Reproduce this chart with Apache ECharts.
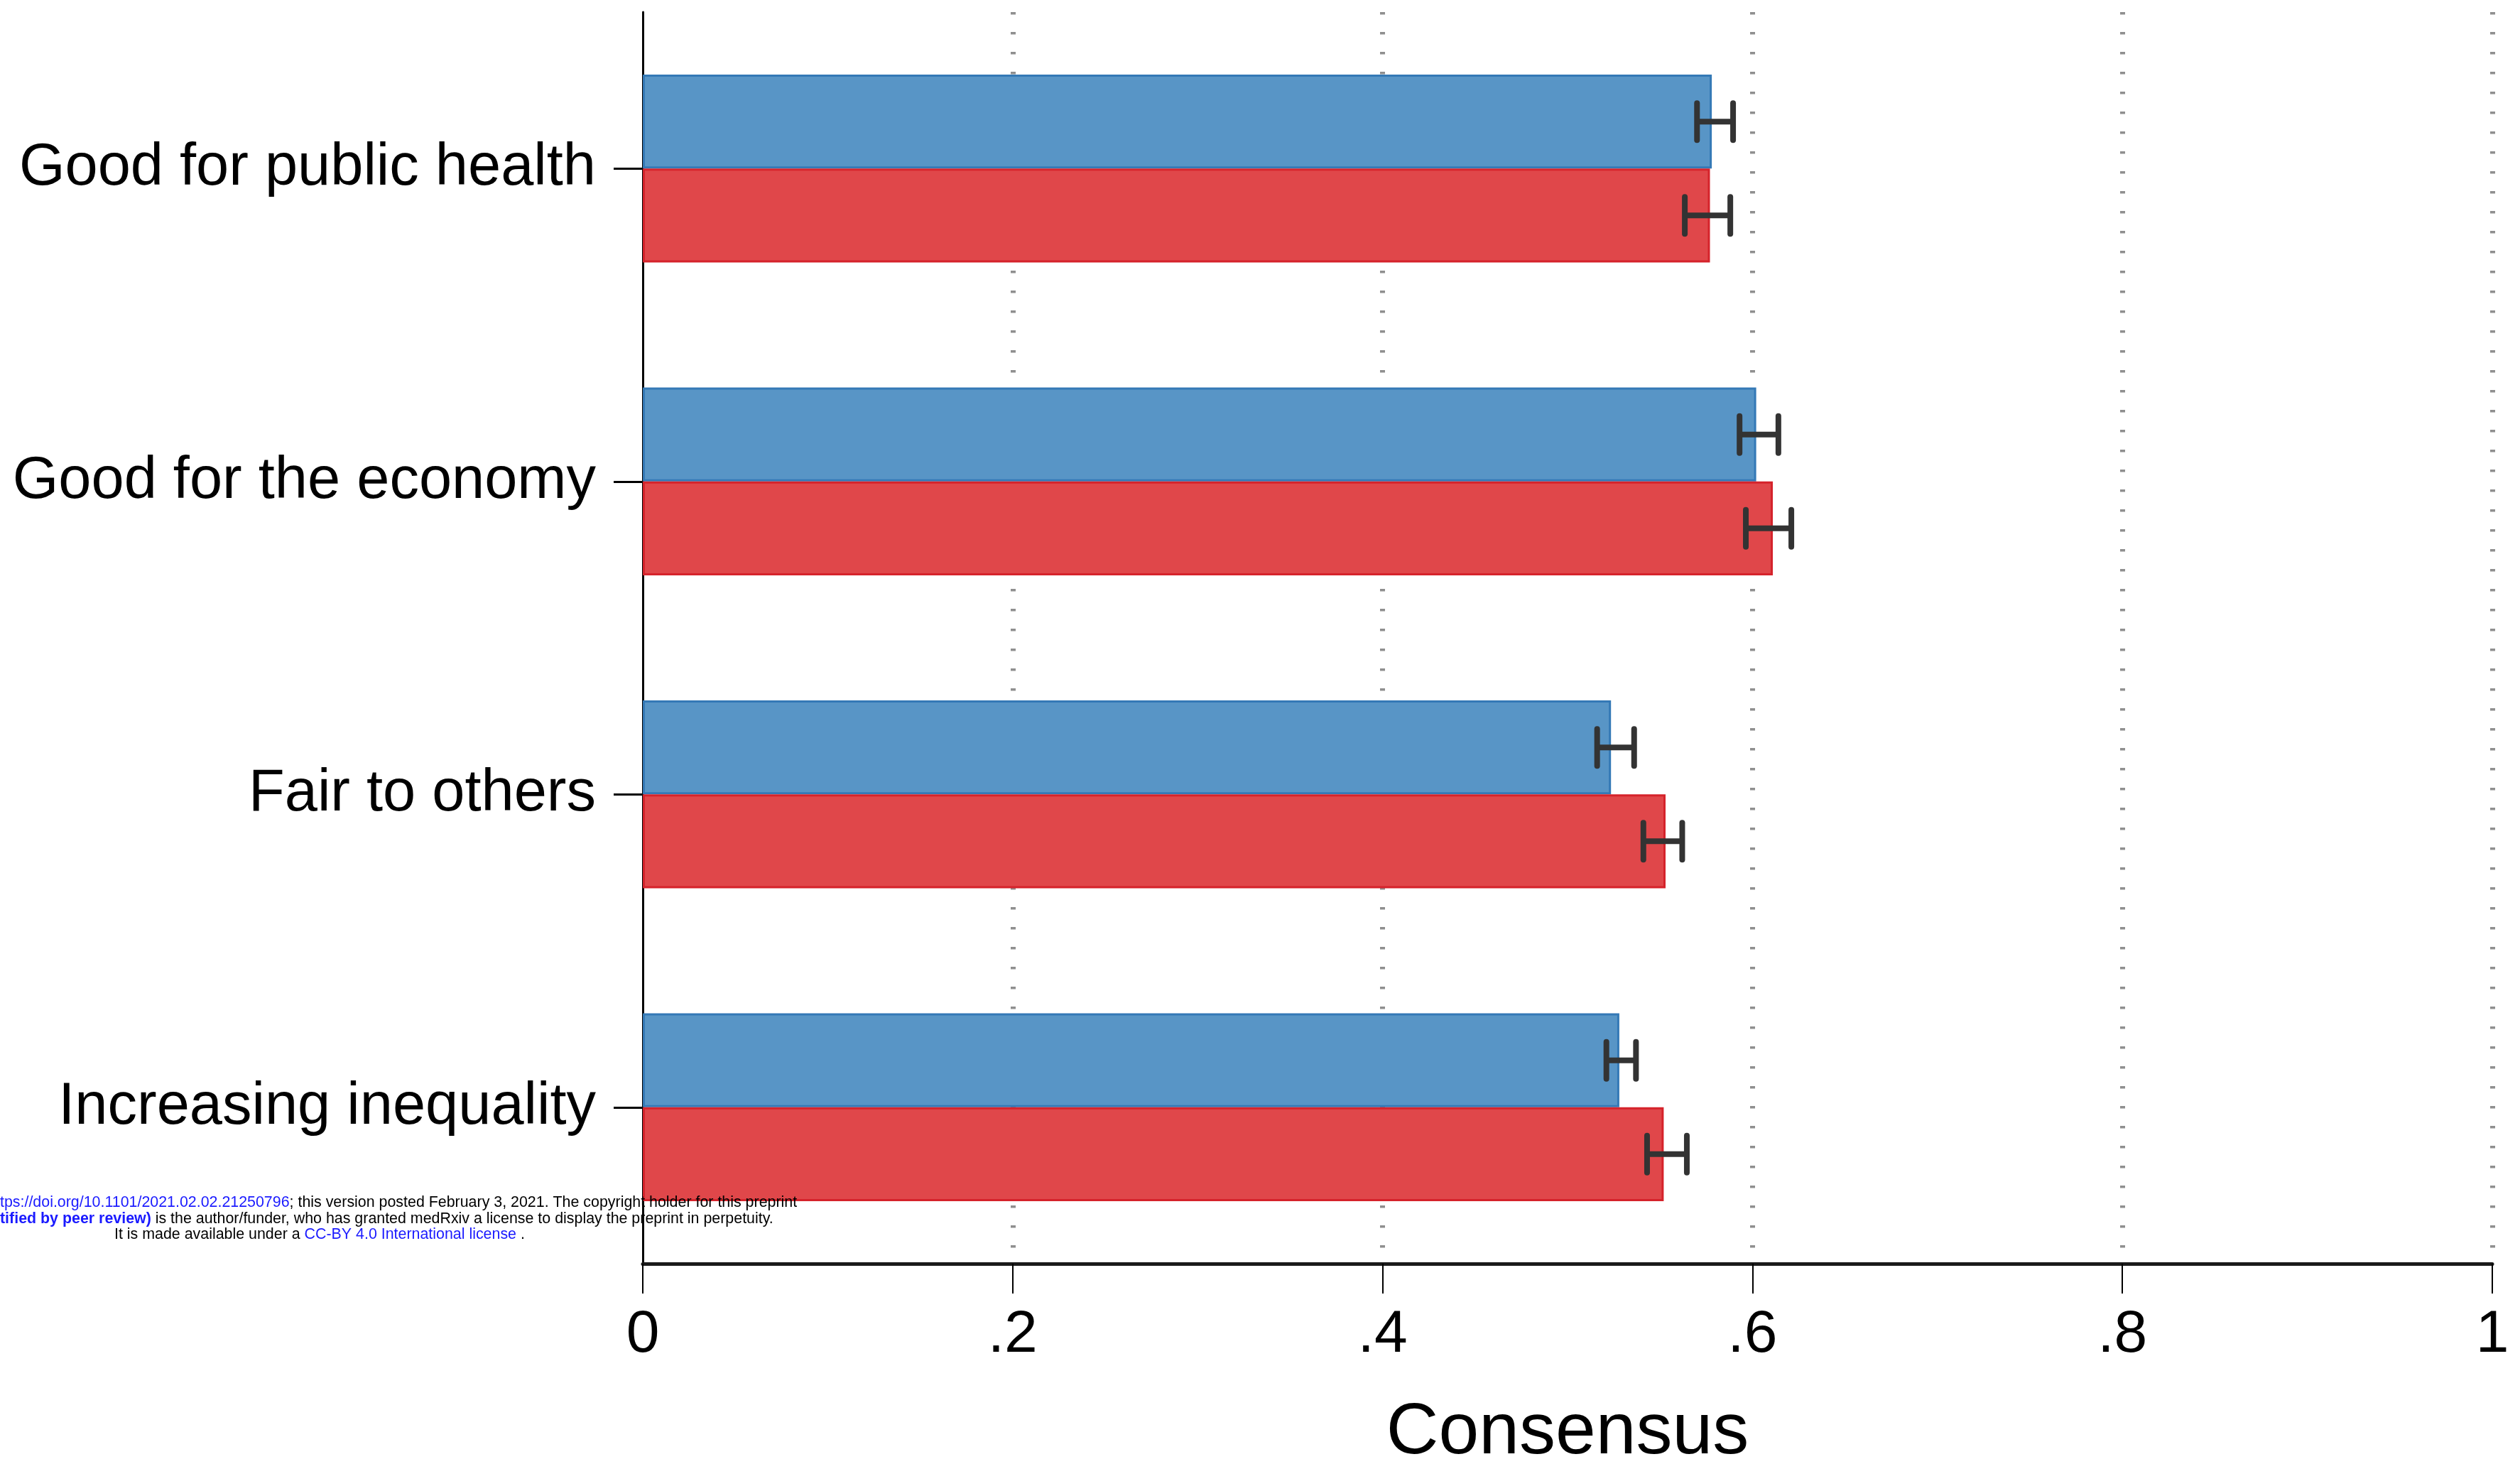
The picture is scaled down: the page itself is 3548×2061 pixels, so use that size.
<!DOCTYPE html>
<html>
<head>
<meta charset="utf-8">
<style>
html,body{margin:0;padding:0;background:#fff;}
#chart{width:3548px;height:2061px;}
</style>
<script src="https://cdn.jsdelivr.net/npm/echarts@6/dist/echarts.min.js"></script>
</head>
<body>
<div id="chart"></div>
<script>
const categories = ['Good for public health', 'Good for the economy', 'Fair to others', 'Increasing inequality'];
const blueValues = [0.578, 0.602, 0.5235, 0.528];
const redValues  = [0.577, 0.611, 0.553, 0.552];
const blueLow  = [0.570, 0.593, 0.516, 0.521];
const blueHigh = [0.5895, 0.614, 0.536, 0.537];
const redLow   = [0.5634, 0.5964, 0.541, 0.543];
const redHigh  = [0.588, 0.621, 0.562, 0.5645];
const xTickLabels = ['0', '.2', '.4', '.6', '.8', '1'];
const xAxisTitle = 'Consensus';

const chart = echarts.init(document.getElementById('chart'), null, {renderer: 'canvas'});
const FONT = 'Liberation Sans, Arial, Helvetica, sans-serif';
const NARROW = 'Liberation Sans Narrow, Arial Narrow, sans-serif';
const GAP = 0.4;

function errorSeries(low, high, sideSign) {
  return {
    type: 'custom',
    z: 5,
    data: categories.map((c, i) => [i, low[i], high[i]]),
    encode: {y: 0, x: [1, 2]},
    renderItem: function (params, api) {
      const idx = api.value(0);
      const lo = api.coord([api.value(1), idx]);
      const hi = api.coord([api.value(2), idx]);
      const band = api.size([0, 1])[1];
      const barW = band * (1 - GAP) / 2;
      const y = lo[1] + sideSign * barW / 2;
      const capH = 26;
      const st = {stroke: '#333333', lineWidth: 8, lineCap: 'round'};
      return {
        type: 'group',
        children: [
          {type: 'line', shape: {x1: lo[0], y1: y, x2: hi[0], y2: y}, style: Object.assign({}, st, {lineCap: 'butt'})},
          {type: 'line', shape: {x1: lo[0], y1: y - capH, x2: lo[0], y2: y + capH}, style: st},
          {type: 'line', shape: {x1: hi[0], y1: y - capH, x2: hi[0], y2: y + capH}, style: st}
        ]
      };
    }
  };
}

const option = {
  backgroundColor: '#ffffff',
  animation: false,
  grid: {left: 905, right: 39, top: 17, bottom: 282, containLabel: false, outerBoundsMode: 'none'},
  xAxis: {
    type: 'value',
    min: 0, max: 1, interval: 0.2,
    name: xAxisTitle,
    nameLocation: 'middle',
    nameGap: 188,
    nameTextStyle: {fontSize: 102, color: '#000', fontFamily: FONT, verticalAlign: 'top'},
    axisLine: {show: true, lineStyle: {color: '#1a1a1a', width: 5}},
    axisTick: {show: true, length: 42, lineStyle: {color: '#000', width: 2}},
    axisLabel: {
      fontSize: 84, color: '#000', fontFamily: FONT, margin: 59,
      formatter: function (v) { return xTickLabels[Math.round(v / 0.2)]; }
    },
    splitLine: {show: true, showMinLine: false, lineStyle: {color: '#8f8f8f', width: 7, type: [3.5, 24.5]}}
  },
  yAxis: {
    type: 'category',
    data: categories,
    inverse: true,
    axisLine: {show: true, lineStyle: {color: '#000', width: 3}},
    axisTick: {show: true, alignWithLabel: true, length: 41, lineStyle: {color: '#000', width: 3}},
    axisLabel: {fontSize: 83, color: '#000', fontFamily: FONT, margin: 66, padding: [6, 0, 0, 0]},
    splitLine: {show: false}
  },
  series: [
    {
      name: 'Blue', type: 'bar', data: blueValues,
      barGap: '0%', barCategoryGap: (GAP * 100) + '%',
      itemStyle: {color: '#5895C6', borderColor: '#3479B6', borderWidth: 3}
    },
    {
      name: 'Red', type: 'bar', data: redValues,
      barGap: '0%', barCategoryGap: (GAP * 100) + '%',
      itemStyle: {color: '#E0474A', borderColor: '#D5232B', borderWidth: 3}
    },
    errorSeries(blueLow, blueHigh, -1),
    errorSeries(redLow, redHigh, 1)
  ],
  graphic: [
    {
      type: 'text', x: 0, y: 1693, z: 100,
      style: {
        text: '{b|tps://doi.org/10.1101/2021.02.02.21250796}{k|; this version posted February 3, 2021. The copyright holder for this preprint}',
        textVerticalAlign: 'middle',
        rich: {
          b: {fill: '#1a1aff', fontSize: 21.4, fontFamily: NARROW},
          k: {fill: '#000', fontSize: 21.4, fontFamily: NARROW}
        }
      }
    },
    {
      type: 'text', x: 0, y: 1716, z: 100,
      style: {
        text: '{b|tified by peer review)}{k| is the author/funder, who has granted medRxiv a license to display the preprint in perpetuity.}',
        textVerticalAlign: 'middle',
        rich: {
          b: {fill: '#1a1aff', fontSize: 21.4, fontWeight: 'bold', fontFamily: NARROW},
          k: {fill: '#000', fontSize: 21.4, fontFamily: NARROW}
        }
      }
    },
    {
      type: 'text', x: 161, y: 1738, z: 100,
      style: {
        text: '{k|It is made available under a }{b|CC-BY 4.0 International license}{k| .}',
        textVerticalAlign: 'middle',
        rich: {
          b: {fill: '#1a1aff', fontSize: 21.4, fontFamily: NARROW},
          k: {fill: '#000', fontSize: 21.4, fontFamily: NARROW}
        }
      }
    }
  ]
};
chart.setOption(option);
</script>
</body>
</html>
